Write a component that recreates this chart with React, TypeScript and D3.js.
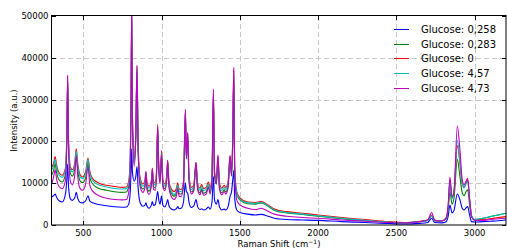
import * as d3 from 'd3';

// Raman shift sample positions (cm^-1)
const shift = [
  300, 312, 320, 330, 345, 365, 385, 395, 400, 406,
  418, 430, 445, 455, 465, 480, 495, 515, 530, 542,
  560, 600, 650, 700, 750, 775, 790, 800, 805, 809,
  814, 825, 835, 843, 850, 862, 880, 893, 900, 907,
  920, 935, 941, 948, 960, 968, 975, 982, 990, 1000,
  1008, 1020, 1032, 1039, 1047, 1060, 1080, 1095, 1103, 1112,
  1125, 1140, 1152, 1158, 1167, 1175, 1190, 1205, 1220, 1230,
  1245, 1256, 1268, 1285, 1299, 1310, 1322, 1331, 1338, 1350,
  1360, 1370, 1385, 1400, 1410, 1425, 1437, 1447, 1455, 1461,
  1467, 1480, 1500, 1550, 1600, 1635, 1680, 1720, 1800, 1900,
  2000, 2150, 2300, 2450, 2550, 2650, 2700, 2725, 2745, 2790,
  2815, 2830, 2842, 2855, 2868, 2889, 2906, 2920, 2932, 2945,
  2955, 2968, 2980, 3000, 3050, 3100, 3150, 3200,
];

const glucose0258 = [
  6700, 7100, 7400, 6600, 5800, 5500, 7200, 11000, 14600, 9000,
  6200, 5900, 6500, 7800, 6300, 5400, 5300, 5800, 7000, 5700,
  5300, 4900, 4600, 4350, 4250, 4300, 5000, 8000, 13000, 18200,
  12500, 10500, 11500, 14000, 9000, 5500, 4500, 4700, 5300, 4500,
  4000, 4800, 5600, 4700, 4900, 6500, 8000, 6000, 5000, 6900,
  4800, 4300, 5200, 6100, 4600, 3900, 3600, 3900, 4400, 3900,
  4000, 5500, 10100, 8000, 7600, 5500, 4200, 4500, 6100, 4400,
  3700, 3900, 3600, 3800, 4300, 3800, 5500, 11600, 6000, 5000,
  6100, 4300, 3600, 3800, 3600, 4400, 6800, 8000, 11000, 13000,
  6500, 3600, 3000, 2600, 2400, 2550, 2100, 1600, 1300, 1200,
  1100, 800, 600, 350, 250, 400, 600, 1600, 600, 500,
  700, 2000, 4800, 2900, 3500, 7400, 6000, 4000, 3600, 4100,
  4400, 2300, 800, 700, 800, 900, 1000, 1200,
];

const glucose0283 = [
  12000, 13300, 14700, 12400, 10800, 10300, 12000, 21000, 34000, 18500,
  12300, 11700, 13300, 16800, 13000, 10500, 10100, 11300, 14800, 11300,
  9800, 8750, 8300, 7950, 7800, 7900, 9300, 14500, 28000, 49000,
  24000, 14800, 20500, 36500, 18500, 10200, 8600, 9300, 11800, 9000,
  8100, 9600, 12600, 9300, 8800, 12300, 22500, 13200, 10300, 16500,
  9800, 8700, 10400, 14500, 9400, 7700, 6900, 7700, 9000, 7500,
  7400, 9300, 26000, 15800, 20500, 10800, 7900, 8400, 14000, 8900,
  7700, 8600, 7600, 7900, 9200, 7900, 10800, 30500, 11800, 9800,
  15300, 8900, 7700, 8400, 7900, 9300, 15300, 11700, 20500, 35500,
  12500, 7200, 6000, 5100, 5000, 5300, 4500, 3500, 2900, 2500,
  2100, 1500, 1000, 650, 500, 800, 1100, 2200, 1000, 950,
  1400, 3500, 8000, 5000, 6500, 15700, 11500, 7800, 7000, 8000,
  8400, 4700, 2000, 1300, 1600, 2000, 2400, 2800,
];

const glucose0 = [
  13900, 15000, 16400, 14200, 12500, 11900, 13500, 22000, 35500, 20000,
  13800, 13200, 14800, 18200, 14500, 12000, 11500, 12800, 16000, 12800,
  11100, 10000, 9500, 9200, 9000, 9100, 10500, 16000, 30000, 50500,
  26000, 16000, 22000, 38000, 20000, 11500, 9800, 10500, 12800, 10200,
  9300, 10800, 13600, 10500, 10000, 13500, 24100, 14500, 11500, 17800,
  11000, 9800, 11500, 15500, 10500, 8800, 8000, 8800, 10100, 8600,
  8500, 10500, 27500, 17000, 22000, 12000, 9000, 9500, 15000, 10000,
  8800, 9700, 8700, 9000, 10300, 9000, 12000, 32000, 13000, 11000,
  16500, 10000, 8800, 9500, 9000, 10500, 16500, 13000, 22000, 37000,
  14000, 8000, 6500, 5500, 5400, 5600, 4800, 3800, 3200, 2800,
  2400, 1800, 1300, 800, 600, 900, 1200, 2400, 1100, 950,
  1500, 4000, 10500, 6500, 8000, 19000, 14700, 10000, 9000, 10000,
  10800, 6000, 2200, 1200, 1300, 1500, 1800, 2000,
];

const glucose457 = [
  13300, 14400, 15700, 13600, 12000, 11400, 13000, 21500, 35000, 19500,
  13300, 12700, 14300, 17700, 14000, 11500, 11100, 12300, 15700, 12300,
  10600, 9550, 9100, 8750, 8600, 8700, 10000, 15500, 29000, 50000,
  25000, 15500, 21500, 37500, 19500, 11000, 9300, 10000, 12500, 9700,
  8800, 10300, 13200, 10000, 9500, 13000, 23500, 14000, 11000, 17200,
  10500, 9300, 11000, 15000, 10000, 8300, 7300, 8200, 9600, 8100,
  8000, 10000, 27000, 16500, 21500, 11500, 8500, 9000, 14600, 9500,
  8300, 9200, 8200, 8500, 9800, 8500, 11500, 31500, 12500, 10500,
  16000, 9500, 8300, 9000, 8500, 10000, 16000, 12500, 21500, 36500,
  13500, 7600, 6200, 5300, 5200, 5400, 4600, 3600, 3000, 2600,
  2200, 1600, 1100, 700, 550, 850, 1100, 2200, 1000, 950,
  1500, 4000, 10400, 6300, 8000, 20300, 15000, 10000, 8800, 10000,
  10400, 5800, 2200, 1300, 1600, 2000, 2400, 2800,
];

const glucose473 = [
  10000, 11800, 13200, 10800, 9200, 8700, 10500, 20000, 35900, 17500,
  10300, 9600, 11800, 16500, 11500, 8700, 8300, 9800, 14000, 9500,
  8100, 7000, 6400, 6100, 6000, 6100, 7800, 13000, 30000, 52000,
  24000, 14000, 21000, 38200, 18000, 9500, 7800, 8700, 12700, 8400,
  7300, 9500, 13400, 8600, 8300, 12500, 23500, 13000, 10000, 16800,
  9300, 8200, 10500, 15500, 9000, 7000, 6100, 7000, 8700, 6900,
  6800, 9500, 27700, 16000, 22100, 10800, 7400, 8200, 15000, 8500,
  7200, 8300, 7100, 7400, 9000, 7400, 11000, 32500, 12000, 9800,
  16800, 8500, 7200, 8000, 7400, 9000, 16700, 11800, 22000, 37600,
  12500, 6000, 4800, 4000, 3700, 4000, 3300, 2600, 2100, 1800,
  1600, 1200, 900, 600, 500, 800, 1200, 3000, 1100, 950,
  1500, 4500, 11500, 6800, 8000, 23700, 17900, 11000, 9600, 10500,
  11200, 6000, 2000, 1100, 1100, 1300, 1500, 1600,
];

const seriesValues = [glucose0258, glucose0283, glucose0, glucose457, glucose473];
const seriesLabels = ['Glucose: 0,258', 'Glucose: 0,283', 'Glucose: 0', 'Glucose: 4,57', 'Glucose: 4,73'];
const seriesColors = ['#0000ff', '#008000', '#ff0000', '#00bfbf', '#bf00bf'];

const xTicks = [500, 1000, 1500, 2000, 2500, 3000];
const yTicks = [0, 10000, 20000, 30000, 40000, 50000];

const W = 507;
const H = 250;
const FONT = '"DejaVu Sans", sans-serif';

export default function App() {
  const margin = { left: 52, top: 16, right: 506, bottom: 225 };
  const x = d3.scaleLinear().domain([300, 3200]).range([margin.left, margin.right]);
  const y = d3.scaleLinear().domain([0, 50000]).range([margin.bottom, margin.top]);

  const lineGen = d3
    .line<[number, number]>()
    .x((d) => x(d[0]))
    .y((d) => y(d[1]))
    .curve(d3.curveMonotoneX);

  const paths = seriesValues.map((vals) => {
    const n = Math.min(vals.length, shift.length);
    const pts: [number, number][] = [];
    for (let i = 0; i < n; i++) pts.push([shift[i], vals[i]]);
    return lineGen(pts) ?? '';
  });

  const pw = margin.right - margin.left;
  const ph = margin.bottom - margin.top;

  return (
    <svg
      width={W}
      height={H}
      style={{ position: 'absolute', left: 0, top: 0, background: '#fff' }}
      fontFamily={FONT}
    >
      <defs>
        <clipPath id="plot-clip">
          <rect x={margin.left} y={margin.top} width={pw} height={ph} />
        </clipPath>
      </defs>

      {/* grid */}
      {xTicks.map((t) => (
        <line
          key={`xg-${t}`}
          x1={Math.round(x(t)) + 0.5}
          x2={Math.round(x(t)) + 0.5}
          y1={margin.top}
          y2={margin.bottom}
          stroke="#c8c8c8"
          strokeDasharray="5,3"
        />
      ))}
      {yTicks.slice(1, -1).map((t) => (
        <line
          key={`yg-${t}`}
          x1={margin.left}
          x2={margin.right}
          y1={Math.round(y(t)) + 0.5}
          y2={Math.round(y(t)) + 0.5}
          stroke="#c8c8c8"
          strokeDasharray="5,3"
        />
      ))}

      {/* spectra */}
      <g clipPath="url(#plot-clip)">
        {paths.map((d, i) => (
          <path key={seriesLabels[i]} d={d} fill="none" stroke={seriesColors[i]} strokeWidth={1.1} />
        ))}
      </g>

      {/* inward ticks, all four sides */}
      {xTicks.map((t) => (
        <g key={`xt-${t}`} stroke="#000">
          <line x1={Math.round(x(t)) + 0.5} x2={Math.round(x(t)) + 0.5} y1={margin.bottom} y2={margin.bottom - 4} />
          <line x1={Math.round(x(t)) + 0.5} x2={Math.round(x(t)) + 0.5} y1={margin.top} y2={margin.top + 4} />
        </g>
      ))}
      {yTicks.map((t) => (
        <g key={`yt-${t}`} stroke="#000">
          <line x1={margin.left} x2={margin.left + 4} y1={Math.round(y(t)) + 0.5} y2={Math.round(y(t)) + 0.5} />
          <line x1={margin.right} x2={margin.right - 4} y1={Math.round(y(t)) + 0.5} y2={Math.round(y(t)) + 0.5} />
        </g>
      ))}

      {/* frame */}
      <rect
        x={margin.left - 0.5}
        y={margin.top - 0.5}
        width={pw + 0.5}
        height={ph + 0.5}
        fill="none"
        stroke="#000"
        strokeWidth={1}
      />

      {/* tick labels */}
      {xTicks.map((t) => (
        <text key={`xl-${t}`} x={x(t)} y={margin.bottom + 11} textAnchor="middle" fontSize={8.5} fill="#000">
          {t}
        </text>
      ))}
      {yTicks.map((t) => (
        <text
          key={`yl-${t}`}
          x={margin.left - 3.5}
          y={y(t)}
          dy="0.35em"
          textAnchor="end"
          fontSize={8.5}
          fill="#000"
        >
          {t}
        </text>
      ))}

      {/* axis labels */}
      <text
        transform={`translate(14, ${(margin.top + margin.bottom) / 2}) rotate(-90)`}
        textAnchor="middle"
        dy="0.35em"
        fontSize={8.5}
        fill="#000"
      >
        Intensity (a.u.)
      </text>
      <text x={(margin.left + margin.right) / 2} y={247} textAnchor="middle" fontSize={8.5} fill="#000">
        Raman Shift (cm
        <tspan dy={-3.5} fontSize={6}>
          −1
        </tspan>
        <tspan dy={3.5}>)</tspan>
      </text>

      {/* legend */}
      {seriesLabels.map((label, i) => {
        const ly = Math.round(29 + i * 14.65) + 0.5;
        return (
          <g key={`lg-${label}`}>
            <line x1={394} x2={409} y1={ly} y2={ly} stroke={seriesColors[i]} strokeWidth={1} />
            <text x={421} y={ly} dy="0.36em" fontSize={10} fill="#000">
              {label}
            </text>
          </g>
        );
      })}
    </svg>
  );
}
